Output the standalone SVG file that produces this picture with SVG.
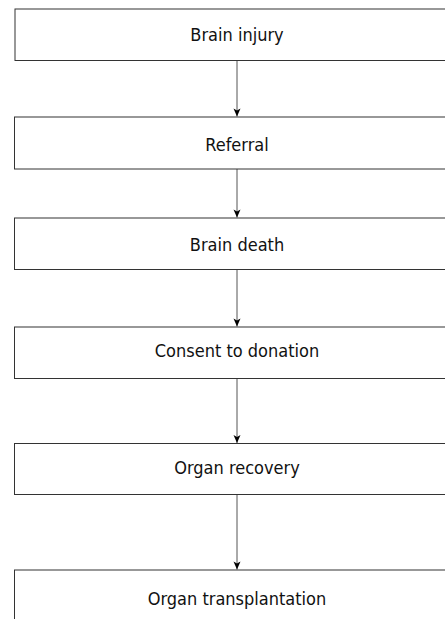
<svg xmlns="http://www.w3.org/2000/svg" width="445" height="619" viewBox="0 0 445 619">
<defs>
<style>
.box rect { fill: #ffffff; stroke: #333333; stroke-width: 1; }
.box text { font-family: "DejaVu Sans Condensed", "DejaVu Sans", sans-serif; font-stretch: condensed; font-size: 18px; fill: #111111; text-anchor: middle; }
.conn line { stroke: #555555; stroke-width: 1; fill: none; marker-end: url(#arrow); }
</style>
<marker id="arrow" markerUnits="userSpaceOnUse" markerWidth="10" markerHeight="10" viewBox="-9 -5 10 10" refX="0" refY="0" orient="auto">
<path d="M0,0 L-8,-3.5 L-6,0 L-8,3.5 Z" fill="#000000"/>
</marker>
</defs>
<rect width="445" height="619" fill="#ffffff"/>
<g id="connectors" class="conn">
<line x1="237" y1="60.5" x2="237" y2="116.5"/>
<line x1="237" y1="169" x2="237" y2="217.5"/>
<line x1="237" y1="269.5" x2="237" y2="326.5"/>
<line x1="237" y1="378.5" x2="237" y2="443"/>
<line x1="237" y1="494.5" x2="237" y2="569.5"/>
</g>
<g id="node-brain-injury" class="box">
<rect x="15" y="9" width="460" height="51.5"/>
<text x="237" y="40.5">Brain injury</text>
</g>
<g id="node-referral" class="box">
<rect x="14.5" y="117" width="460" height="52"/>
<text x="237" y="150.5">Referral</text>
</g>
<g id="node-brain-death" class="box">
<rect x="14.5" y="218" width="460" height="51.5"/>
<text x="237" y="250.5">Brain death</text>
</g>
<g id="node-consent" class="box">
<rect x="14.5" y="327" width="460" height="51.5"/>
<text x="237" y="357">Consent to donation</text>
</g>
<g id="node-organ-recovery" class="box">
<rect x="14.5" y="443.5" width="460" height="51"/>
<text x="237" y="474">Organ recovery</text>
</g>
<g id="node-organ-transplantation" class="box">
<rect x="14.5" y="570" width="460" height="70"/>
<text x="237" y="605">Organ transplantation</text>
</g>
</svg>
